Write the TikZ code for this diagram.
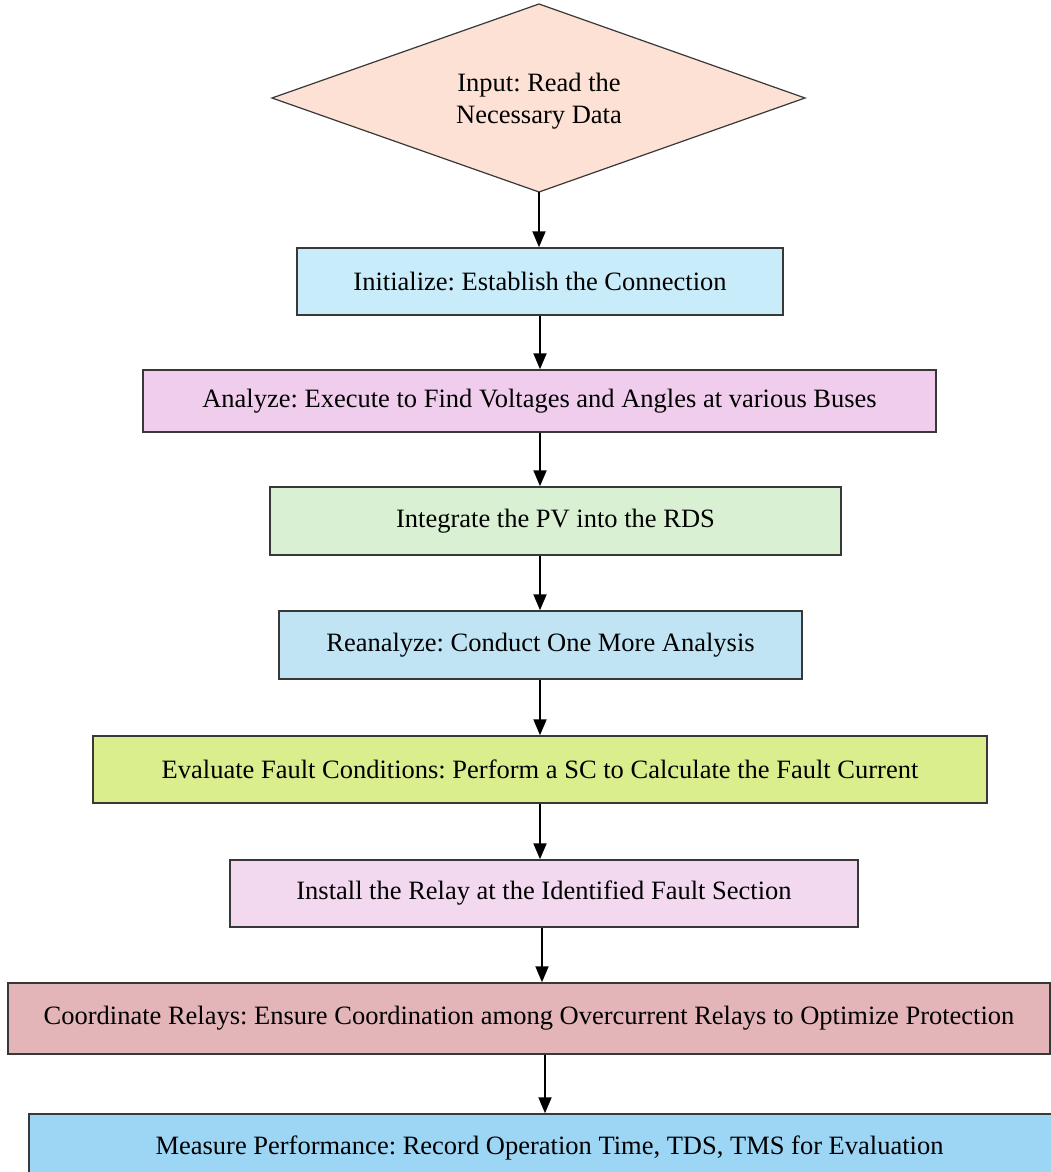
\documentclass[tikz,border=0pt]{standalone}
\usepackage{fontspec}
\setmainfont{Liberation Serif}
\frenchspacing
\usetikzlibrary{shapes.geometric,arrows.meta}
\definecolor{cD}{HTML}{FCE1D4}
\definecolor{cA}{HTML}{C8ECFA}
\definecolor{cB}{HTML}{F0CDEC}
\definecolor{cC}{HTML}{D9F1D2}
\definecolor{cE}{HTML}{C0E4F4}
\definecolor{cF}{HTML}{DAEE8D}
\definecolor{cG}{HTML}{F2D9F0}
\definecolor{cH}{HTML}{E3B4B8}
\definecolor{cI}{HTML}{9DD5F5}
\definecolor{edge}{HTML}{383838}
\begin{document}
\begin{tikzpicture}[x=1pt,y=-1pt,
  stepbox/.style={draw=edge,line width=1.5pt,rectangle,inner sep=0pt,
    font=\fontsize{26.5}{31}\selectfont,text=black},
  arr/.style={line width=2pt,-{Triangle[length=16pt,width=13pt]}}]
\useasboundingbox (0,0) rectangle (1051,1172);
\clip (0,0) rectangle (1051,1172);
\draw[draw=edge,line width=1.2pt,fill=cD] (539,4) coordinate (dt) -- (805,98) -- (539,192) coordinate (db) -- (272,98) -- cycle;
\node[font=\fontsize{26.5}{32}\selectfont,align=center] (d) at (539,101) {Input: Read the\\Necessary Data};
\node[stepbox,fill=cA,minimum width=486pt,minimum height=67pt] (b1) at (540,281.5) {Initialize: Establish the Connection};
\node[stepbox,fill=cB,minimum width=793pt,minimum height=62pt] (b2) at (539.5,401) {Analyze: Execute to Find Voltages and Angles at various Buses};
\node[stepbox,fill=cC,minimum width=571pt,minimum height=68pt] (b3) at (555.5,521) {Integrate the PV into the RDS};
\node[stepbox,fill=cE,minimum width=523pt,minimum height=68pt] (b4) at (540.5,645) {Reanalyze: Conduct One More Analysis};
\node[stepbox,fill=cF,minimum width=894pt,minimum height=67pt] (b5) at (540,769.5) {Evaluate Fault Conditions: Perform a SC to Calculate the Fault Current};
\node[stepbox,fill=cG,minimum width=628pt,minimum height=67pt] (b6) at (544,893.5) {Install the Relay at the Identified Fault Section};
\node[stepbox,fill=cH,minimum width=1042pt,minimum height=71pt] (b7) at (529,1018.5) {Coordinate Relays: Ensure Coordination among Overcurrent Relays to Optimize Protection};
\node[stepbox,fill=cI,minimum width=1041pt,minimum height=68pt] (b8) at (549.5,1148) {Measure Performance: Record Operation Time, TDS, TMS for Evaluation};
\coordinate (ax) at (540,0);
\draw[arr] (db) -- (b1.north -| db);
\draw[arr] (b1.south -| ax) -- (b2.north -| ax);
\draw[arr] (b2.south -| ax) -- (b3.north -| ax);
\draw[arr] (b3.south -| ax) -- (b4.north -| ax);
\draw[arr] (b4.south -| ax) -- (b5.north -| ax);
\draw[arr] (b5.south -| ax) -- (b6.north -| ax);
\coordinate (ax2) at (542,0);
\draw[arr] (b6.south -| ax2) -- (b7.north -| ax2);
\coordinate (ax3) at (545,0);
\draw[arr] (b7.south -| ax3) -- (b8.north -| ax3);
\end{tikzpicture}
\end{document}
